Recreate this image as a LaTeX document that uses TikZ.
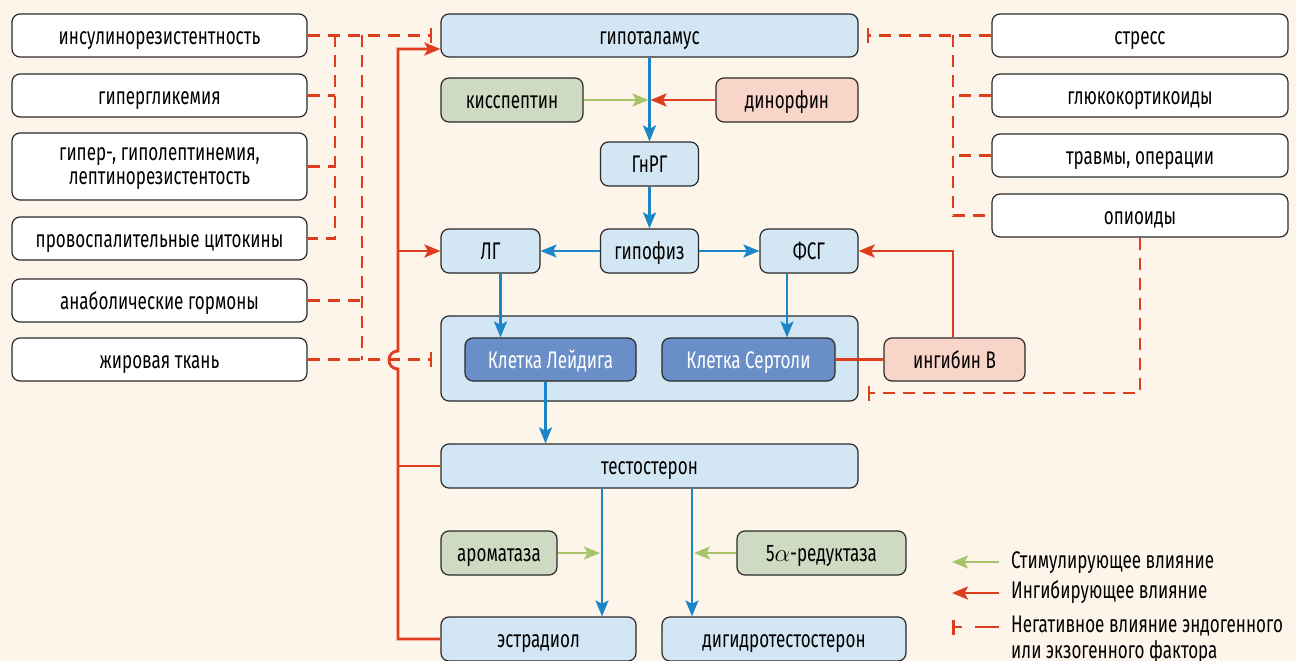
\documentclass[tikz,border=0pt]{standalone}
\usepackage{fontspec}
\setmainfont{Fira Sans}[FakeStretch=0.71]
\usetikzlibrary{arrows.meta,calc}
\definecolor{bg}{HTML}{FEF5EA}
\definecolor{lblue}{HTML}{D3E6F3}
\definecolor{lgreen}{HTML}{CEDAC1}
\definecolor{lpink}{HTML}{F8D4C9}
\definecolor{dblue}{HTML}{6A8FC8}
\definecolor{redc}{HTML}{DE3D1E}
\definecolor{bluec}{HTML}{1A86C8}
\definecolor{greenc}{HTML}{A8C46A}
\definecolor{boxline}{HTML}{2A2A2A}
\begin{document}
\begin{tikzpicture}[x=1pt,y=-1pt,font=\fontsize{24}{25}\selectfont,
  boxbase/.style={draw=boxline,line width=1.2pt,rounded corners=8pt,minimum height=43pt,inner sep=0pt,align=center,text=black},
  box/.style={boxbase,text height=21.6pt,text depth=4pt},
  wbox/.style={box,fill=white,minimum width=295pt},
  bbox/.style={box,fill=lblue},
  gbox/.style={box,fill=lgreen},
  pbox/.style={box,fill=lpink},
  dbox/.style={box,fill=dblue,text=white},
  tipst/.style={-{Stealth[length=16pt,width=13pt,inset=3.5pt]}},
  barr/.style={draw=bluec,line width=2.4pt,tipst},
  garr/.style={draw=greenc,line width=2.6pt,tipst},
  rarr/.style={draw=redc,line width=2.8pt,tipst},
  rline/.style={draw=redc,line width=2.8pt},
  negline/.style={draw=redc,line width=2.8pt,dash pattern=on 12pt off 8pt},
  negbar/.style={negline,-{Bar[width=15pt]}},
  legtext/.style={anchor=west,inner sep=0pt,text height=21.6pt,text depth=4pt}]
\useasboundingbox[fill=bg] (0,0) rectangle (1296,661);

% left column
\node[wbox] (insul) at (159.5,35.5) {инсулинорезистентность};
\node[wbox] (gipergl) at (159.5,95.5) {гипергликемия};
\node[boxbase,fill=white,minimum width=295pt,minimum height=67pt] (lept) at (159.5,166.5) {\rule{0pt}{17.6pt}гипер-, гиполептинемия,\\[-1pt]лептинорезистентость};
\node[wbox] (provosp) at (159.5,238.5) {провоспалительные цитокины};
\node[wbox] (anabol) at (159.5,300.5) {анаболические гормоны};
\node[wbox] (zhir) at (159.5,359.5) {жировая ткань};

% right column
\node[wbox,minimum width=296pt] (stress) at (1140,35.5) {стресс};
\node[wbox,minimum width=296pt] (gluco) at (1140,95.5) {глюкокортикоиды};
\node[wbox,minimum width=296pt] (travm) at (1140,155.5) {травмы, операции};
\node[wbox,minimum width=296pt] (opi) at (1140,215.5) {опиоиды};

% center
\node[bbox,minimum width=417pt] (hyp) at (649.5,35.5) {гипоталамус};
\node[gbox,minimum width=142pt,minimum height=44pt] (kiss) at (512,100) {кисспептин};
\node[pbox,minimum width=142pt,minimum height=44pt] (dyn) at (787,100) {динорфин};
\node[bbox,minimum width=98pt,minimum height=44pt] (gnrh) at (649.5,164) {ГнРГ};
\node[bbox,minimum width=98pt,minimum height=44pt] (gip) at (649.5,251) {гипофиз};
\node[bbox,minimum width=99pt,minimum height=44pt] (LH) at (490.5,251) {ЛГ};
\node[bbox,minimum width=98pt,minimum height=44pt] (FSH) at (809,251) {ФСГ};
\node[bbox,minimum width=417pt,minimum height=85pt] (cont) at (649.5,358.5) {};
\node[dbox,minimum width=171pt] (leyd) at (550.5,359.5) {Клетка Лейдига};
\node[dbox,minimum width=173pt] (sert) at (748.5,359.5) {Клетка Сертоли};
\node[pbox,minimum width=141pt] (inh) at (954.5,359.5) {ингибин B};
\node[bbox,minimum width=417pt,minimum height=44pt] (testo) at (649.5,466) {тестостерон};
\node[gbox,minimum width=116pt,minimum height=44pt] (arom) at (499,553) {ароматаза};
\node[gbox,minimum width=169pt,minimum height=44pt] (red5) at (821.5,553) {5$\alpha$-редуктаза};
\node[bbox,minimum width=195pt,minimum height=44pt] (estr) at (538.5,639) {эстрадиол};
\node[bbox,minimum width=244pt,minimum height=44pt] (dht) at (784,639) {дигидротестостерон};

% helper coordinates
\coordinate (v1) at (335,0);
\coordinate (v2) at (362,0);
\coordinate (v3) at (953,0);
\coordinate (rv) at (398,0);
\coordinate (hopb) at (398,369);
\coordinate (hopt) at (398,351);
\coordinate (rtop) at (398,49);
\coordinate (h1) at (0,393);
\coordinate (ex) at (602,0);
\coordinate (dx) at (692,0);

% left dashed lines
\draw[negline] (insul.east -| v1) -- (provosp.east -| v1) -- (provosp.east);
\draw[negline] (gipergl.east) -- (gipergl.east -| v1);
\draw[negline] (lept.east) -- (lept.east -| v1);
\draw[negline] (insul.east -| v2) -- (zhir.east -| v2);
\draw[negline] (anabol.east) -- (anabol.east -| v2);
\draw[negbar,shorten >=8pt] (insul.east) -- (hyp.west);
\draw[negbar,shorten >=8pt] (zhir.east) -- (zhir.east -| cont.west);

% right dashed lines
\draw[negline] (stress.west -| v3) -- (opi.west -| v3) -- (opi.west);
\draw[negline] (gluco.west) -- (gluco.west -| v3);
\draw[negline] (travm.west) -- (travm.west -| v3);
\draw[negbar,shorten >=8pt] (stress.west) -- (hyp.east);
\draw[negbar,shorten >=9pt] (opi.south) -- (opi.south |- h1) -- (h1 -| cont.east);

% red feedback
\draw[rarr] (estr.west) -| (hopb) .. controls +(-12,0) and +(-12,0) .. (hopt) -- (rtop) -- (rtop -| hyp.west);
\draw[rline] (testo.west) -- (testo.west -| rv);
\draw[rarr] (LH.west -| rv) -- (LH.west);
\draw[rline] (sert.east) -- (inh.west);
\draw[rarr] (inh.north -| v3) |- (FSH.east);

% blue flow
\draw[barr] (hyp.south) -- (gnrh.north);
\draw[barr] (gnrh.south) -- (gip.north);
\draw[barr] (gip.west) -- (LH.east);
\draw[barr] (gip.east) -- (FSH.west);
\draw[barr] ([xshift=10pt]LH.south) -- ([xshift=10pt]LH.south |- leyd.north);
\draw[barr] ([xshift=-22pt]FSH.south) -- ([xshift=-22pt]FSH.south |- sert.north);
\draw[barr] ([xshift=-5pt]leyd.south) -- ([xshift=-5pt]leyd.south |- testo.north);
\draw[barr] (testo.south -| ex) -- (estr.north -| ex);
\draw[barr] (testo.south -| dx) -- (dht.north -| dx);

% modulators
\draw[garr,shorten >=1pt] (kiss.east) -- (kiss.east -| hyp.south);
\draw[rarr,shorten >=1pt] (dyn.west) -- (dyn.west -| hyp.south);
\draw[garr,shorten >=2pt] (arom.east) -- (arom.east -| ex);
\draw[garr,shorten >=2pt] (red5.west) -- (red5.west -| dx);

% legend
\coordinate (l1a) at (999,562); \coordinate (l1b) at (952,562);
\coordinate (l2a) at (999,593); \coordinate (l2b) at (952,593);
\coordinate (l3a) at (999,627); \coordinate (l3b) at (952,627);
\draw[garr] (l1a) -- (l1b);
\draw[rarr] (l2a) -- (l2b);
\draw[negline,dash pattern=on 24pt off 13pt,-{Bar[width=15pt]}] (l3a) -- (l3b);
\node[legtext] (lt1) at (1011,560) {Стимулирующее влияние};
\node[legtext] (lt2) at (1011,590) {Ингибирующее влияние};
\node[legtext] (lt3) at (1011,624) {Негативное влияние эндогенного};
\node[legtext] (lt4) at (1011,649.5) {или экзогенного фактора};
\end{tikzpicture}
\end{document}
